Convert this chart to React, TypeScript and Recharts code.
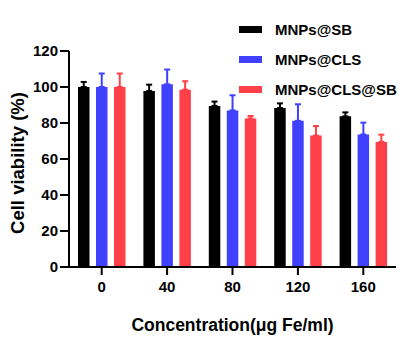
import { BarChart, Bar, XAxis, YAxis, ErrorBar } from 'recharts'

const concentrations = ['0', '40', '80', '120', '160']
const sbMean = [100, 97.8, 89.5, 88.3, 83.7]
const sbErr = [2.8, 3.5, 2.4, 2.6, 2.2]
const clsMean = [100, 101.5, 87, 81.2, 73.6]
const clsErr = [7.5, 8.2, 8.4, 9.2, 6.6]
const clsSbMean = [100, 98.5, 82.5, 73, 69.5]
const clsSbErr = [7.5, 4.7, 1.4, 5.3, 4]
const yTicks = [0, 20, 40, 60, 80, 100, 120]

const series = [
  { key: 'sb', name: 'MNPs@SB', color: '#000000' },
  { key: 'cls', name: 'MNPs@CLS', color: '#4040FF' },
  { key: 'clsSb', name: 'MNPs@CLS@SB', color: '#FF4048' },
]

// upward-only error bars: [below, above]
const data = concentrations.map((c, i) => ({
  conc: c,
  sb: sbMean[i],
  sbE: [0, sbErr[i]],
  cls: clsMean[i],
  clsE: [0, clsErr[i]],
  clsSb: clsSbMean[i],
  clsSbE: [0, clsSbErr[i]],
}))

const font = '"Liberation Sans", Arial, sans-serif'

export default function App() {
  return (
    <div style={{ position: 'absolute', left: 0, top: 0, width: 403, height: 339, background: '#fff', fontFamily: font }}>
      <BarChart
        width={403}
        height={339}
        data={data}
        margin={{ top: 51, right: 7, bottom: 0, left: 0 }}
        barSize={11.5}
        barGap={6.5}
      >
        <XAxis
          dataKey="conc"
          height={72}
          stroke="#000"
          strokeWidth={2}
          tickSize={8}
          tickMargin={6}
          tick={{ fill: '#000', fontSize: 15, fontWeight: 'bold', fontFamily: font }}
          label={(p: any) => {
            const vb = p.viewBox
            return (
              <text
                x={vb.x + vb.width / 2}
                y={vb.y + 64}
                textAnchor="middle"
                fontSize={17.5}
                fontWeight="bold"
                fontFamily={font}
                fill="#000"
              >
                Concentration(μg Fe/ml)
              </text>
            )
          }}
        />
        <YAxis
          width={69}
          domain={[0, 120]}
          ticks={yTicks}
          interval={0}
          stroke="#000"
          strokeWidth={2}
          tickSize={9}
          tickMargin={2}
          tick={{ fill: '#000', fontSize: 15, fontWeight: 'bold', fontFamily: font }}
          label={(p: any) => {
            const vb = p.viewBox
            const cx = vb.x + 17
            const cy = vb.y + vb.height / 2 + 4
            return (
              <text
                x={cx}
                y={cy}
                transform={`rotate(-90 ${cx} ${cy})`}
                textAnchor="middle"
                dominantBaseline="central"
                fontSize={18.5}
                fontWeight="bold"
                fontFamily={font}
                fill="#000"
              >
                Cell viability (%)
              </text>
            )
          }}
        />
        {series.map((s) => (
          <Bar key={s.key} dataKey={s.key} name={s.name} fill={s.color} isAnimationActive={false}>
            <ErrorBar dataKey={s.key + 'E'} direction="y" width={3} stroke={s.color} strokeWidth={2} />
          </Bar>
        ))}
      </BarChart>

      {/* legend */}
      <div style={{ position: 'absolute', left: 239, top: 14 }}>
        {series.map((s) => (
          <div key={s.key} style={{ display: 'flex', alignItems: 'center', height: 30 }}>
            <span style={{ display: 'inline-block', width: 23, height: 7, background: s.color, marginRight: 13 }} />
            <span style={{ fontSize: 15, fontWeight: 'bold', color: '#000' }}>{s.name}</span>
          </div>
        ))}
      </div>
    </div>
  )
}
